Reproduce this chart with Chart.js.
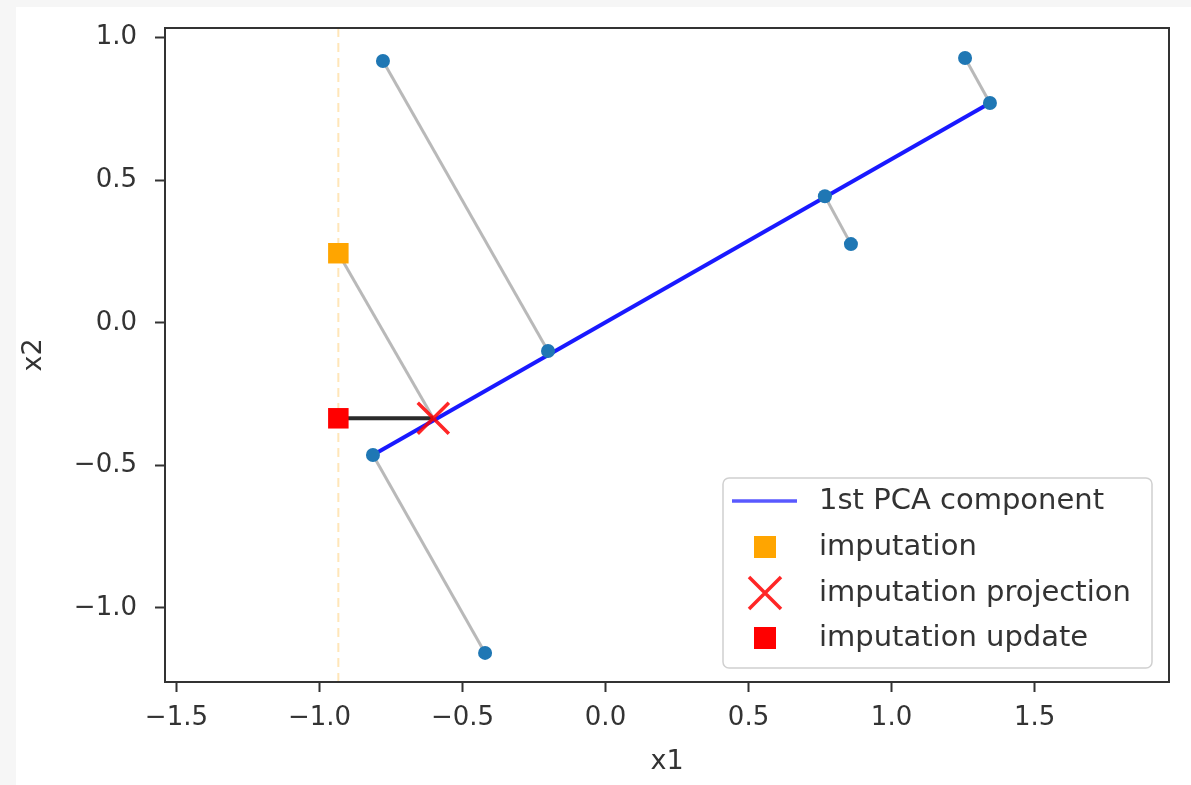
<!DOCTYPE html>
<html>
<head>
<meta charset="utf-8">
<script src="https://cdn.jsdelivr.net/npm/chart.js@4/dist/chart.umd.min.js"></script>
<style>
  body { margin: 0; background: #f6f6f6; }
  .wrap { position: absolute; left: 16px; top: 7px; width: 1175px; height: 778px; background: #fff; }
</style>
</head>
<body>
<div class="wrap"><canvas id="pca" width="1175" height="778"></canvas></div>
<script>
// axis ticks and limits
let xTicks = [-1.5, -1.0, -0.5, 0.0, 0.5, 1.0, 1.5];
let yTicks = [-1.0, -0.5, 0.0, 0.5, 1.0];
let xRange = [-1.54, 1.97];
let yRange = [-1.26, 1.034];

// observed points and their projections on the 1st component
let pointsX = [-0.778, 1.257, 0.858, -0.421];
let pointsY = [0.918, 0.929, 0.276, -1.158];
let projX = [-0.201, 1.344, 0.767, -0.813];
let projY = [-0.099, 0.771, 0.444, -0.464];

// 1st PCA component segment
let pcaX = [-0.813, 1.344];
let pcaY = [-0.464, 0.771];

// imputation step (x, y)
let imputation = [-0.934, 0.244];
let impProjection = [-0.602, -0.335];
let impUpdate = [-0.934, -0.335];

let legendLabels = ["1st PCA component", "imputation", "imputation projection", "imputation update"];

let fontFamily = "'DejaVu Sans', sans-serif";
let inkColor = "#333";

let fmt = (v) => v.toFixed(1).replace("-", "\u2212");

// gray projection segments, one dataset each
let segments = [];
pointsX.forEach((x, i) => {
  segments.push([{ x: x, y: pointsY[i] }, { x: projX[i], y: projY[i] }]);
});
segments.push([
  { x: imputation[0], y: imputation[1] },
  { x: impProjection[0], y: impProjection[1] },
]);

let datasets = [];

// faint dashed vertical at the imputed column
datasets.push({
  label: "missing",
  data: [{ x: imputation[0], y: yRange[0] }, { x: imputation[0], y: yRange[1] }],
  showLine: true,
  borderColor: "rgba(255,165,0,0.28)",
  borderWidth: 2,
  borderDash: [9, 6],
  pointRadius: 0,
  order: 10,
});

segments.forEach((seg) => {
  datasets.push({
    label: "proj",
    data: seg,
    showLine: true,
    borderColor: "rgba(128,128,128,0.55)",
    borderWidth: 3,
    pointRadius: 0,
    order: 9,
  });
});

datasets.push({
  label: legendLabels[0],
  data: pcaX.map((x, i) => ({ x: x, y: pcaY[i] })),
  showLine: true,
  borderColor: "rgba(0,0,255,0.9)",
  borderWidth: 4,
  pointRadius: 0,
  order: 8,
});

datasets.push({
  label: "points",
  data: pointsX.map((x, i) => ({ x: x, y: pointsY[i] }))
    .concat(projX.map((x, i) => ({ x: x, y: projY[i] }))),
  backgroundColor: "#1f77b4",
  borderWidth: 0,
  pointRadius: 7,
  order: 7,
});

datasets.push({
  label: "update",
  data: [{ x: impUpdate[0], y: impUpdate[1] }, { x: impProjection[0], y: impProjection[1] }],
  showLine: true,
  borderColor: "#2b2b2b",
  borderWidth: 4,
  pointRadius: 0,
  order: 6,
});

datasets.push({
  label: legendLabels[1],
  data: [{ x: imputation[0], y: imputation[1] }],
  pointStyle: "rect",
  pointRadius: 14.5,
  backgroundColor: "orange",
  borderWidth: 0,
  order: 3,
});

datasets.push({
  label: legendLabels[2],
  data: [{ x: impProjection[0], y: impProjection[1] }],
  pointStyle: "crossRot",
  pointRadius: 22,
  borderColor: "rgba(255,0,0,0.85)",
  borderWidth: 3.5,
  order: 2,
});

datasets.push({
  label: legendLabels[3],
  data: [{ x: impUpdate[0], y: impUpdate[1] }],
  pointStyle: "rect",
  pointRadius: 14.5,
  backgroundColor: "red",
  borderWidth: 0,
  order: 1,
});

// spines on top and right plus the boxed legend
let framePlugin = {
  id: "frame",
  afterDraw(chart) {
    let ctx = chart.ctx;
    let a = chart.chartArea;
    ctx.save();
    ctx.strokeStyle = inkColor;
    ctx.lineWidth = 2;
    ctx.strokeRect(a.left, a.top, a.right - a.left, a.bottom - a.top);

    let w = 429, h = 190;
    let left = a.right - 17 - w;
    let top = a.bottom - 14 - h;
    ctx.beginPath();
    ctx.roundRect(left, top, w, h, 6);
    ctx.fillStyle = "rgba(255,255,255,0.85)";
    ctx.fill();
    ctx.strokeStyle = "#d0d0d0";
    ctx.lineWidth = 1.5;
    ctx.stroke();

    let rows = [23, 69, 115, 160].map((r) => top + r);
    let cx = left + 42;

    ctx.beginPath();
    ctx.moveTo(left + 9, rows[0]);
    ctx.lineTo(left + 74, rows[0]);
    ctx.strokeStyle = "rgba(60,60,255,0.85)";
    ctx.lineWidth = 3.5;
    ctx.stroke();

    ctx.fillStyle = "orange";
    ctx.fillRect(cx - 11, rows[1] - 11, 22, 22);

    ctx.beginPath();
    ctx.moveTo(cx - 16, rows[2] - 16);
    ctx.lineTo(cx + 16, rows[2] + 16);
    ctx.moveTo(cx + 16, rows[2] - 16);
    ctx.lineTo(cx - 16, rows[2] + 16);
    ctx.strokeStyle = "rgba(255,0,0,0.85)";
    ctx.lineWidth = 3.5;
    ctx.stroke();

    ctx.fillStyle = "red";
    ctx.fillRect(cx - 11, rows[3] - 11, 22, 22);

    ctx.fillStyle = inkColor;
    ctx.font = "29px " + fontFamily;
    ctx.textBaseline = "middle";
    ctx.textAlign = "left";
    legendLabels.forEach((t, i) => ctx.fillText(t, left + 96, rows[i]));
    ctx.restore();
  },
};

new Chart(document.getElementById("pca"), {
  type: "scatter",
  data: { datasets: datasets },
  plugins: [framePlugin],
  options: {
    responsive: false,
    animation: false,
    devicePixelRatio: 1,
    layout: { autoPadding: false, padding: { left: 0, right: 22, top: 21, bottom: 0 } },
    plugins: { legend: { display: false }, tooltip: { enabled: false } },
    scales: {
      x: {
        type: "linear",
        min: xRange[0],
        max: xRange[1],
        afterBuildTicks: (s) => { s.ticks = xTicks.map((v) => ({ value: v })); },
        afterFit: (s) => {
          s.height = 103;
          s.paddingLeft = 0;
          s.paddingRight = 0;
        },
        grid: { drawOnChartArea: false, tickLength: 10, tickWidth: 2, tickColor: inkColor },
        border: { display: true, color: inkColor, width: 2 },
        ticks: {
          padding: 11,
          color: inkColor,
          font: { family: fontFamily, size: 26 },
          callback: (v) => fmt(v),
        },
        title: {
          display: true,
          text: "x1",
          color: inkColor,
          font: { family: fontFamily, size: 27 },
          padding: { top: 0, bottom: 7 },
        },
      },
      y: {
        type: "linear",
        min: yRange[0],
        max: yRange[1],
        afterBuildTicks: (s) => { s.ticks = yTicks.map((v) => ({ value: v })); },
        afterFit: (s) => {
          s.width = 149;
          s.paddingTop = 0;
          s.paddingBottom = 0;
        },
        grid: { drawOnChartArea: false, tickLength: 10, tickWidth: 2, tickColor: inkColor },
        border: { display: true, color: inkColor, width: 2 },
        ticks: {
          padding: 18,
          color: inkColor,
          font: { family: fontFamily, size: 26 },
          callback: (v) => fmt(v),
        },
        title: {
          display: true,
          text: "x2",
          color: inkColor,
          font: { family: fontFamily, size: 27 },
          padding: { top: 2, bottom: 0 },
        },
      },
    },
  },
});
</script>
</body>
</html>
